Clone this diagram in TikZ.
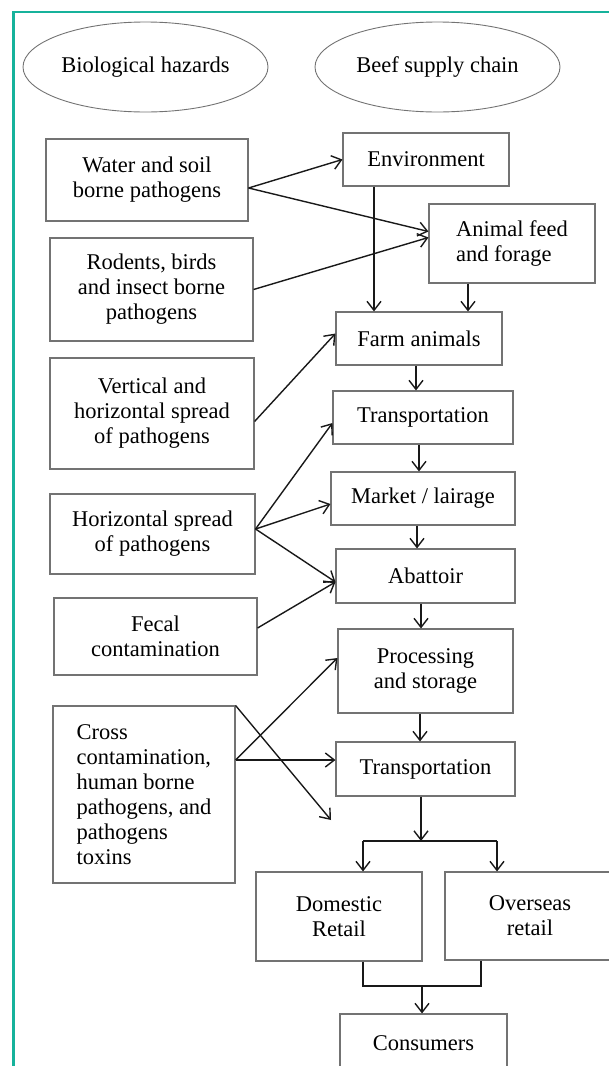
\documentclass[tikz,border=0pt]{standalone}
\usepackage{fontspec}
\setmainfont{Liberation Serif}
\usepackage{xcolor}
\usetikzlibrary{shapes.geometric,arrows.meta}
\definecolor{frameteal}{RGB}{22,178,155}

\begin{document}
\begin{tikzpicture}[x=1pt,y=-1pt,
    box/.style={draw=black!55,line width=1.1pt,align=center,inner sep=2pt,font=\fontsize{22.5}{25}\selectfont},
    oval/.style={ellipse,draw=black!55,line width=0.9pt,minimum width=245pt,minimum height=90pt,inner sep=0pt,font=\fontsize{22.5}{25}\selectfont},
    link/.style={line width=1.4pt,black!90},
    flow/.style={->,line width=1.4pt,black!90},
    >={Straight Barb[length=9pt,width=14pt]}]
    \useasboundingbox (0,0) rectangle (609,1066);
    \draw[frameteal,line width=2.6pt] (13.2,1070) -- (13.2,11.8) -- (612,11.8);

    % headings
    \node[oval] (hazards) at (145.5,67) {Biological hazards};
    \node[oval] (chain) at (437.5,67) {Beef supply chain};

    % hazards column
    \node[box,minimum width=202pt,minimum height=82pt] (water) at (147,180) {Water and soil\\borne pathogens};
    \node[box,minimum width=203pt,minimum height=103pt] (rodents) at (151.5,289.5) {Rodents, birds\\and insect borne\\pathogens};
    \node[box,minimum width=204pt,minimum height=111pt] (vertical) at (152,413.5) {Vertical and\\horizontal spread\\of pathogens};
    \node[box,minimum width=205pt,minimum height=80pt] (horizontal) at (152.5,534) {Horizontal spread\\of pathogens};
    \node[box,minimum width=203pt,minimum height=77pt] (fecal) at (155.5,636.5) {Fecal\\contamination};
    \node[box,align=left,minimum width=182pt,minimum height=177pt] (cross) at (144,794.5) {Cross\\contamination,\\human borne\\pathogens, and\\pathogens\\toxins};

    % supply chain column
    \node[box,minimum width=166pt,minimum height=53pt] (env) at (426,159.5) {Environment};
    \node[box,align=left,minimum width=166pt,minimum height=79pt] (feed) at (512,243.5) {Animal feed\\and forage};
    \node[box,minimum width=166pt,minimum height=53pt] (farm) at (419,338.5) {Farm animals};
    \node[box,minimum width=180pt,minimum height=53pt] (trans1) at (423,417.5) {Transportation};
    \node[box,minimum width=184pt,minimum height=53pt] (market) at (423,498.5) {Market / lairage};
    \node[box,minimum width=179pt,minimum height=54pt] (abattoir) at (425.5,576) {Abattoir};
    \node[box,minimum width=175pt,minimum height=84pt] (proc) at (425.5,671) {Processing\\and storage};
    \node[box,minimum width=179pt,minimum height=54pt] (trans2) at (425.5,769) {Transportation};
    \node[box,minimum width=166pt,minimum height=89pt] (domestic) at (339,916.5) {Domestic\\Retail};
    \node[box,minimum width=170pt,minimum height=88pt] (overseas) at (530,916) {Overseas\\retail};
    \node[box,minimum width=167pt,minimum height=58pt] (consumers) at (423.5,1043) {Consumers};

    \coordinate (crossend) at (331,820);
    \coordinate (split) at (421,841);
    \coordinate (merge) at (422,986);

    % hazards into the chain
    \draw[flow] ([yshift=-8pt]water.east) -- (env.west);
    \draw[flow] ([yshift=-8pt]water.east) -- ([yshift=12pt]feed.west);
    \draw[flow] (rodents.east) -- ([yshift=6pt]feed.west);
    \draw[flow] ([yshift=-8pt]vertical.east) -- ([yshift=5pt]farm.west);
    \draw[flow] ([yshift=5pt]horizontal.east) -- ([yshift=-5.5pt]trans1.west);
    \draw[flow] ([yshift=5pt]horizontal.east) -- ([yshift=-5.5pt]market.west);
    \draw[flow] ([yshift=5pt]horizontal.east) -- ([yshift=-6pt]abattoir.west);
    \draw[flow] ([yshift=8.5pt]fecal.east) -- ([yshift=-6pt]abattoir.west);
    \draw[flow] ([yshift=34.5pt]cross.east) -- ([yshift=13pt]proc.west);
    \draw[flow] ([yshift=34.5pt]cross.east) -- ([yshift=9pt]trans2.west);
    \draw[flow] (cross.north east) -- (crossend);

    % chain
    \draw[flow] ([xshift=-52pt]env.south) -- ([xshift=-52pt]env.south |- farm.north);
    \draw[flow] ([xshift=-44pt]feed.south) -- ([xshift=-44pt]feed.south |- farm.north);
    \draw[flow] ([xshift=-3pt]farm.south) -- ([xshift=-3pt]farm.south |- trans1.north);
    \draw[flow] ([xshift=-4pt]trans1.south) -- ([xshift=-4pt]trans1.south |- market.north);
    \draw[flow] ([xshift=-6pt]market.south) -- ([xshift=-6pt]market.south |- abattoir.north);
    \draw[flow] ([xshift=-4.5pt]abattoir.south) -- ([xshift=-4.5pt]abattoir.south |- proc.north);
    \draw[flow] ([xshift=-5.5pt]proc.south) -- ([xshift=-5.5pt]proc.south |- trans2.north);
    \draw[flow] ([xshift=-4.5pt]trans2.south) -- (split);
    \draw[link] ([xshift=24pt]domestic.north |- split) -- ([xshift=-33pt]overseas.north |- split);
    \draw[flow] ([xshift=24pt]domestic.north |- split) -- ([xshift=24pt]domestic.north);
    \draw[flow] ([xshift=-33pt]overseas.north |- split) -- ([xshift=-33pt]overseas.north);
    \draw[link] ([xshift=24pt]domestic.south) |- (merge) -| ([xshift=-49pt]overseas.south);
    \draw[flow] (merge) -- (merge |- consumers.north);
\end{tikzpicture}
\end{document}
